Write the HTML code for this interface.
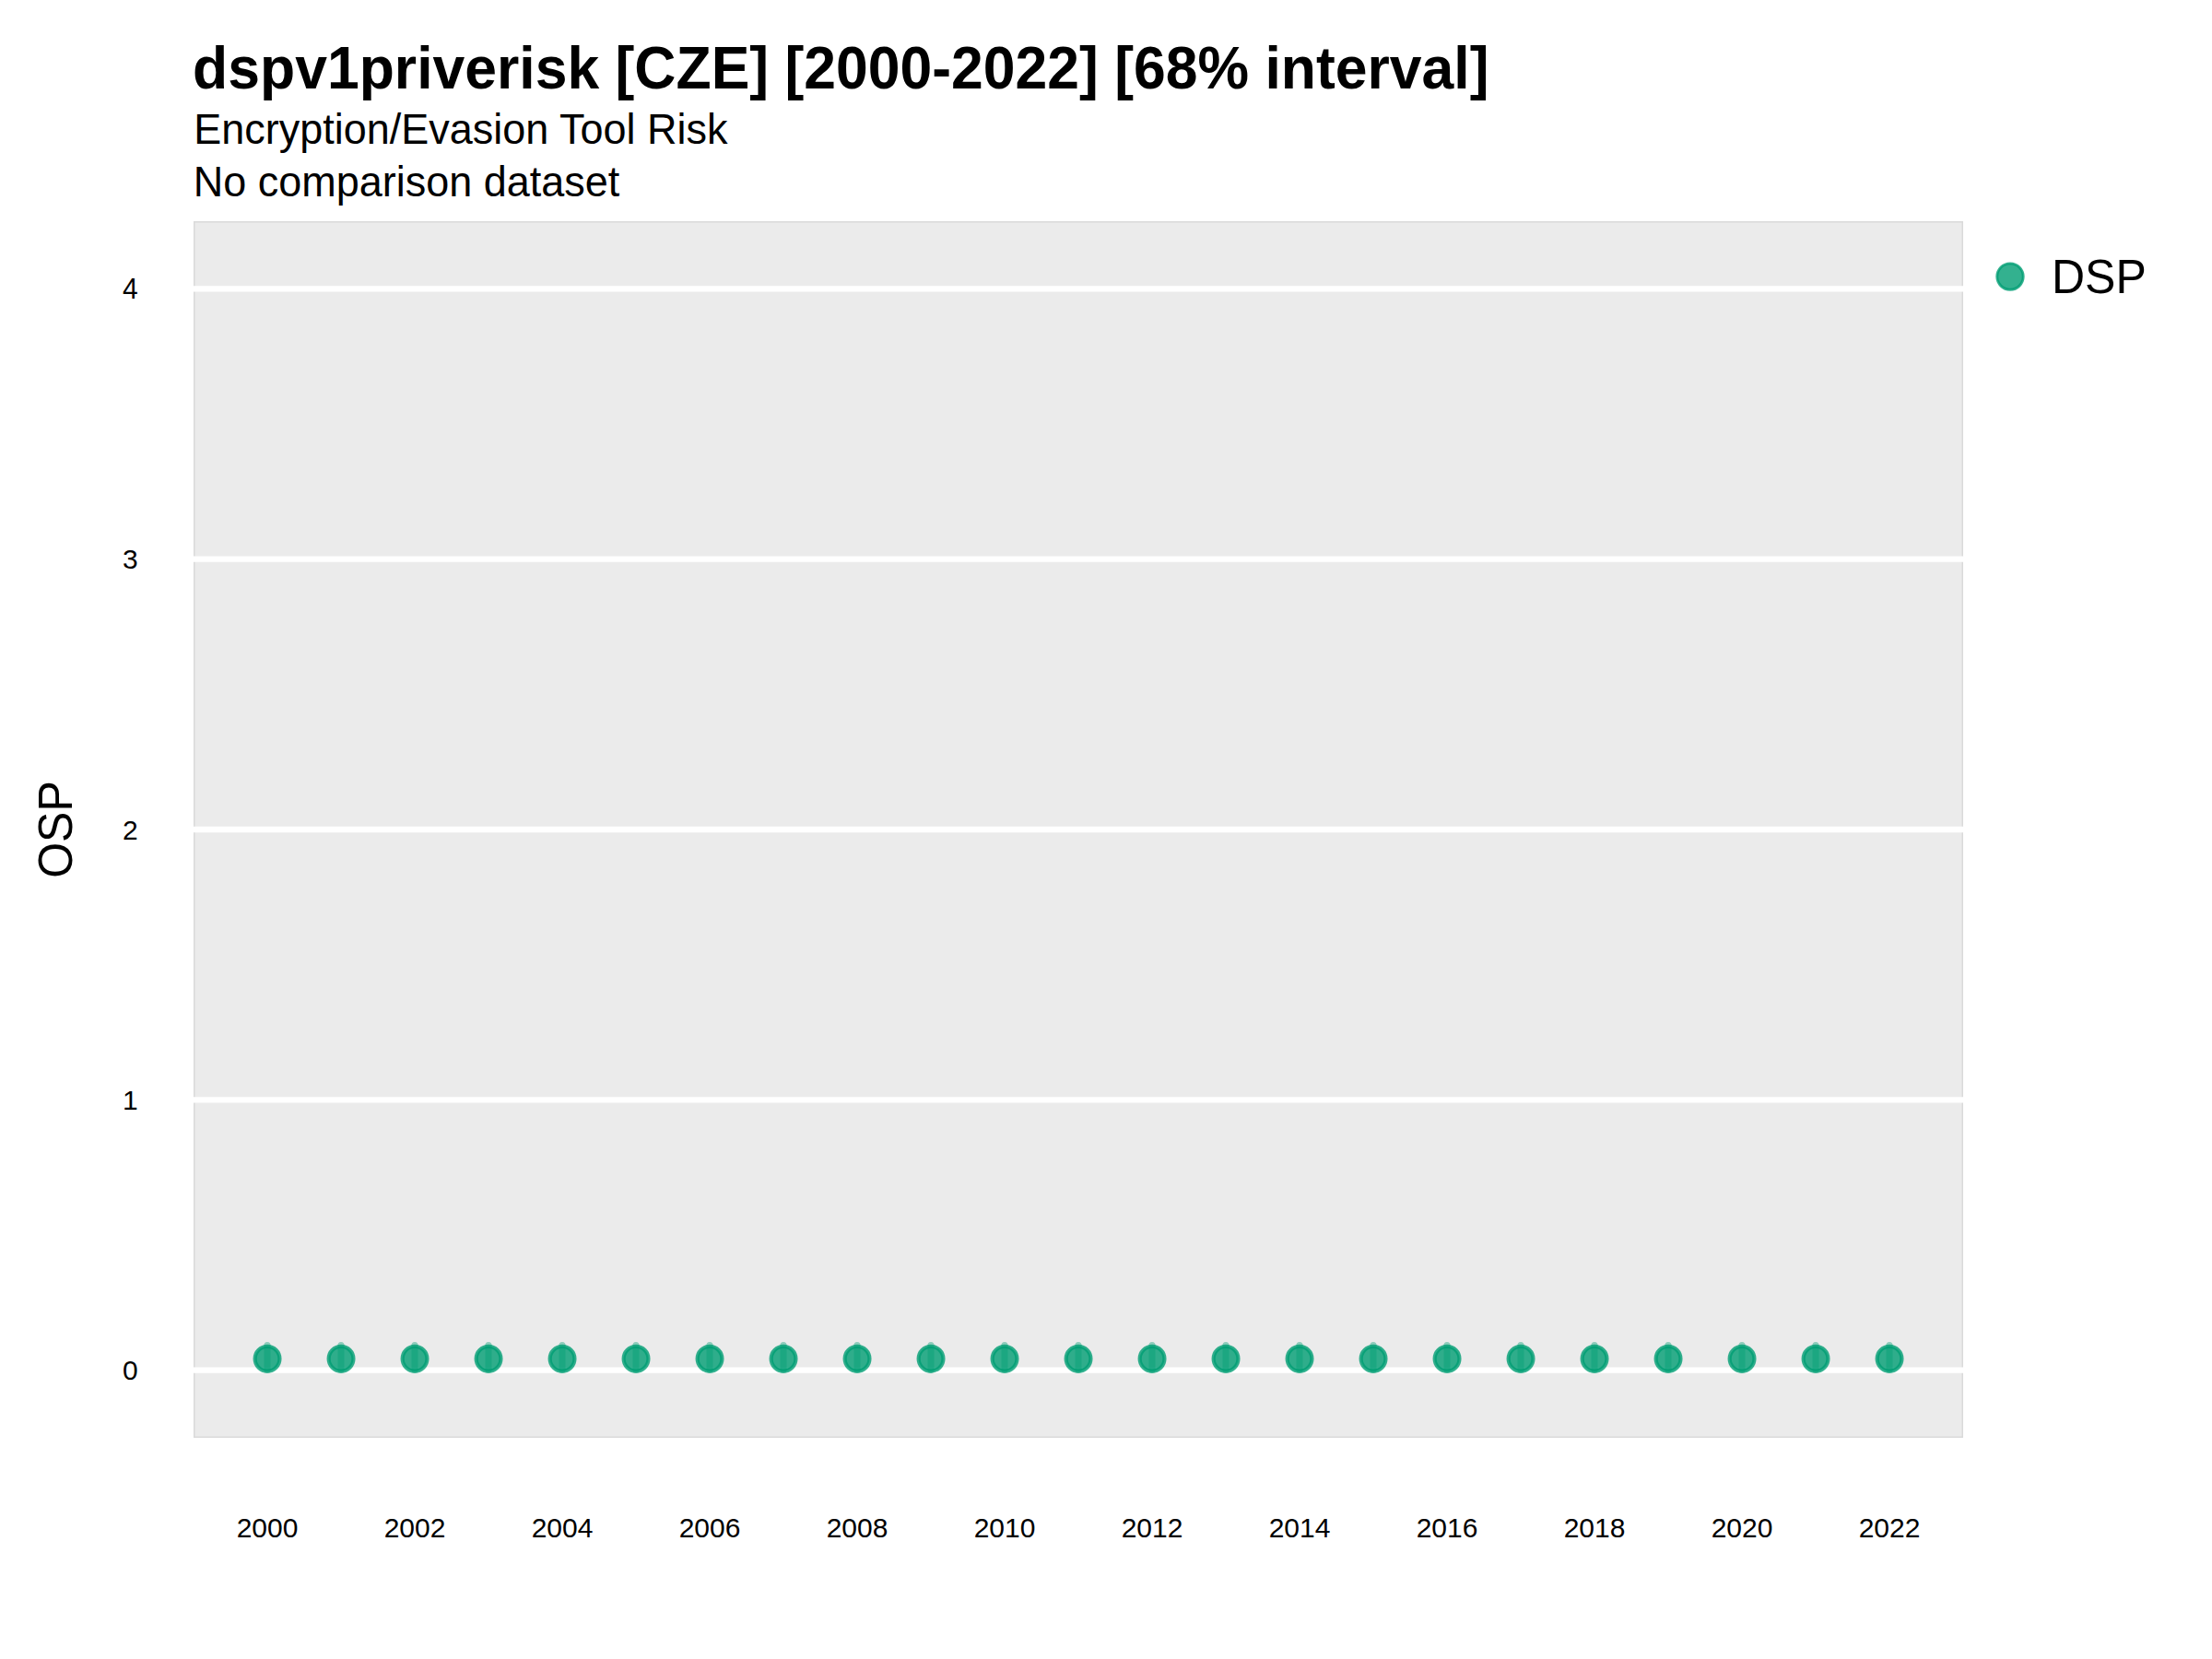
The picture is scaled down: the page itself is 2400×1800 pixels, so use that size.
<!DOCTYPE html>
<html lang="en"><head><meta charset="utf-8"><title>dspv1priverisk [CZE]</title>
<style>html,body{margin:0;padding:0;background:#fff;}svg{display:block}text{font-family:"Liberation Sans",Arial,Helvetica,sans-serif;fill:#000}.ax{font-size:30px}.t{font-size:62.5px;font-weight:bold}.s{font-size:45px}.lg{font-size:50px}.yl{font-size:50px}</style></head><body>
<svg width="2400" height="1800" viewBox="0 0 2400 1800">
<rect x="0" y="0" width="2400" height="1800" fill="#ffffff"/>
<rect x="210" y="240" width="1920" height="1320" fill="#ebebeb"/>
<rect x="210.75" y="240.75" width="1918.5" height="1318.5" fill="none" stroke="#dadada" stroke-width="1.5"/>
<line x1="210" x2="2130" y1="1486.67" y2="1486.67" stroke="#ffffff" stroke-width="6.4"/>
<line x1="210" x2="2130" y1="1193.34" y2="1193.34" stroke="#ffffff" stroke-width="6.4"/>
<line x1="210" x2="2130" y1="900.00" y2="900.00" stroke="#ffffff" stroke-width="6.4"/>
<line x1="210" x2="2130" y1="606.67" y2="606.67" stroke="#ffffff" stroke-width="6.4"/>
<line x1="210" x2="2130" y1="313.34" y2="313.34" stroke="#ffffff" stroke-width="6.4"/>
<g>
<line x1="290" x2="290" y1="1459.6" y2="1486.4" stroke="#009e73" stroke-opacity="0.4" stroke-width="7.1" stroke-linecap="round"/>
<line x1="370" x2="370" y1="1459.6" y2="1486.4" stroke="#009e73" stroke-opacity="0.4" stroke-width="7.1" stroke-linecap="round"/>
<line x1="450" x2="450" y1="1459.6" y2="1486.4" stroke="#009e73" stroke-opacity="0.4" stroke-width="7.1" stroke-linecap="round"/>
<line x1="530" x2="530" y1="1459.6" y2="1486.4" stroke="#009e73" stroke-opacity="0.4" stroke-width="7.1" stroke-linecap="round"/>
<line x1="610" x2="610" y1="1459.6" y2="1486.4" stroke="#009e73" stroke-opacity="0.4" stroke-width="7.1" stroke-linecap="round"/>
<line x1="690" x2="690" y1="1459.6" y2="1486.4" stroke="#009e73" stroke-opacity="0.4" stroke-width="7.1" stroke-linecap="round"/>
<line x1="770" x2="770" y1="1459.6" y2="1486.4" stroke="#009e73" stroke-opacity="0.4" stroke-width="7.1" stroke-linecap="round"/>
<line x1="850" x2="850" y1="1459.6" y2="1486.4" stroke="#009e73" stroke-opacity="0.4" stroke-width="7.1" stroke-linecap="round"/>
<line x1="930" x2="930" y1="1459.6" y2="1486.4" stroke="#009e73" stroke-opacity="0.4" stroke-width="7.1" stroke-linecap="round"/>
<line x1="1010" x2="1010" y1="1459.6" y2="1486.4" stroke="#009e73" stroke-opacity="0.4" stroke-width="7.1" stroke-linecap="round"/>
<line x1="1090" x2="1090" y1="1459.6" y2="1486.4" stroke="#009e73" stroke-opacity="0.4" stroke-width="7.1" stroke-linecap="round"/>
<line x1="1170" x2="1170" y1="1459.6" y2="1486.4" stroke="#009e73" stroke-opacity="0.4" stroke-width="7.1" stroke-linecap="round"/>
<line x1="1250" x2="1250" y1="1459.6" y2="1486.4" stroke="#009e73" stroke-opacity="0.4" stroke-width="7.1" stroke-linecap="round"/>
<line x1="1330" x2="1330" y1="1459.6" y2="1486.4" stroke="#009e73" stroke-opacity="0.4" stroke-width="7.1" stroke-linecap="round"/>
<line x1="1410" x2="1410" y1="1459.6" y2="1486.4" stroke="#009e73" stroke-opacity="0.4" stroke-width="7.1" stroke-linecap="round"/>
<line x1="1490" x2="1490" y1="1459.6" y2="1486.4" stroke="#009e73" stroke-opacity="0.4" stroke-width="7.1" stroke-linecap="round"/>
<line x1="1570" x2="1570" y1="1459.6" y2="1486.4" stroke="#009e73" stroke-opacity="0.4" stroke-width="7.1" stroke-linecap="round"/>
<line x1="1650" x2="1650" y1="1459.6" y2="1486.4" stroke="#009e73" stroke-opacity="0.4" stroke-width="7.1" stroke-linecap="round"/>
<line x1="1730" x2="1730" y1="1459.6" y2="1486.4" stroke="#009e73" stroke-opacity="0.4" stroke-width="7.1" stroke-linecap="round"/>
<line x1="1810" x2="1810" y1="1459.6" y2="1486.4" stroke="#009e73" stroke-opacity="0.4" stroke-width="7.1" stroke-linecap="round"/>
<line x1="1890" x2="1890" y1="1459.6" y2="1486.4" stroke="#009e73" stroke-opacity="0.4" stroke-width="7.1" stroke-linecap="round"/>
<line x1="1970" x2="1970" y1="1459.6" y2="1486.4" stroke="#009e73" stroke-opacity="0.4" stroke-width="7.1" stroke-linecap="round"/>
<line x1="2050" x2="2050" y1="1459.6" y2="1486.4" stroke="#009e73" stroke-opacity="0.4" stroke-width="7.1" stroke-linecap="round"/>
<circle cx="290.05" cy="1474.25" r="13.4" fill="#009e73" fill-opacity="0.8"/><circle cx="290.05" cy="1474.25" r="13.4" fill="none" stroke="#009e73" stroke-opacity="0.8" stroke-width="4.2"/>
<circle cx="370.05" cy="1474.25" r="13.4" fill="#009e73" fill-opacity="0.8"/><circle cx="370.05" cy="1474.25" r="13.4" fill="none" stroke="#009e73" stroke-opacity="0.8" stroke-width="4.2"/>
<circle cx="450.05" cy="1474.25" r="13.4" fill="#009e73" fill-opacity="0.8"/><circle cx="450.05" cy="1474.25" r="13.4" fill="none" stroke="#009e73" stroke-opacity="0.8" stroke-width="4.2"/>
<circle cx="530.05" cy="1474.25" r="13.4" fill="#009e73" fill-opacity="0.8"/><circle cx="530.05" cy="1474.25" r="13.4" fill="none" stroke="#009e73" stroke-opacity="0.8" stroke-width="4.2"/>
<circle cx="610.05" cy="1474.25" r="13.4" fill="#009e73" fill-opacity="0.8"/><circle cx="610.05" cy="1474.25" r="13.4" fill="none" stroke="#009e73" stroke-opacity="0.8" stroke-width="4.2"/>
<circle cx="690.05" cy="1474.25" r="13.4" fill="#009e73" fill-opacity="0.8"/><circle cx="690.05" cy="1474.25" r="13.4" fill="none" stroke="#009e73" stroke-opacity="0.8" stroke-width="4.2"/>
<circle cx="770.05" cy="1474.25" r="13.4" fill="#009e73" fill-opacity="0.8"/><circle cx="770.05" cy="1474.25" r="13.4" fill="none" stroke="#009e73" stroke-opacity="0.8" stroke-width="4.2"/>
<circle cx="850.05" cy="1474.25" r="13.4" fill="#009e73" fill-opacity="0.8"/><circle cx="850.05" cy="1474.25" r="13.4" fill="none" stroke="#009e73" stroke-opacity="0.8" stroke-width="4.2"/>
<circle cx="930.05" cy="1474.25" r="13.4" fill="#009e73" fill-opacity="0.8"/><circle cx="930.05" cy="1474.25" r="13.4" fill="none" stroke="#009e73" stroke-opacity="0.8" stroke-width="4.2"/>
<circle cx="1010.05" cy="1474.25" r="13.4" fill="#009e73" fill-opacity="0.8"/><circle cx="1010.05" cy="1474.25" r="13.4" fill="none" stroke="#009e73" stroke-opacity="0.8" stroke-width="4.2"/>
<circle cx="1090.05" cy="1474.25" r="13.4" fill="#009e73" fill-opacity="0.8"/><circle cx="1090.05" cy="1474.25" r="13.4" fill="none" stroke="#009e73" stroke-opacity="0.8" stroke-width="4.2"/>
<circle cx="1170.05" cy="1474.25" r="13.4" fill="#009e73" fill-opacity="0.8"/><circle cx="1170.05" cy="1474.25" r="13.4" fill="none" stroke="#009e73" stroke-opacity="0.8" stroke-width="4.2"/>
<circle cx="1250.05" cy="1474.25" r="13.4" fill="#009e73" fill-opacity="0.8"/><circle cx="1250.05" cy="1474.25" r="13.4" fill="none" stroke="#009e73" stroke-opacity="0.8" stroke-width="4.2"/>
<circle cx="1330.05" cy="1474.25" r="13.4" fill="#009e73" fill-opacity="0.8"/><circle cx="1330.05" cy="1474.25" r="13.4" fill="none" stroke="#009e73" stroke-opacity="0.8" stroke-width="4.2"/>
<circle cx="1410.05" cy="1474.25" r="13.4" fill="#009e73" fill-opacity="0.8"/><circle cx="1410.05" cy="1474.25" r="13.4" fill="none" stroke="#009e73" stroke-opacity="0.8" stroke-width="4.2"/>
<circle cx="1490.05" cy="1474.25" r="13.4" fill="#009e73" fill-opacity="0.8"/><circle cx="1490.05" cy="1474.25" r="13.4" fill="none" stroke="#009e73" stroke-opacity="0.8" stroke-width="4.2"/>
<circle cx="1570.05" cy="1474.25" r="13.4" fill="#009e73" fill-opacity="0.8"/><circle cx="1570.05" cy="1474.25" r="13.4" fill="none" stroke="#009e73" stroke-opacity="0.8" stroke-width="4.2"/>
<circle cx="1650.05" cy="1474.25" r="13.4" fill="#009e73" fill-opacity="0.8"/><circle cx="1650.05" cy="1474.25" r="13.4" fill="none" stroke="#009e73" stroke-opacity="0.8" stroke-width="4.2"/>
<circle cx="1730.05" cy="1474.25" r="13.4" fill="#009e73" fill-opacity="0.8"/><circle cx="1730.05" cy="1474.25" r="13.4" fill="none" stroke="#009e73" stroke-opacity="0.8" stroke-width="4.2"/>
<circle cx="1810.05" cy="1474.25" r="13.4" fill="#009e73" fill-opacity="0.8"/><circle cx="1810.05" cy="1474.25" r="13.4" fill="none" stroke="#009e73" stroke-opacity="0.8" stroke-width="4.2"/>
<circle cx="1890.05" cy="1474.25" r="13.4" fill="#009e73" fill-opacity="0.8"/><circle cx="1890.05" cy="1474.25" r="13.4" fill="none" stroke="#009e73" stroke-opacity="0.8" stroke-width="4.2"/>
<circle cx="1970.05" cy="1474.25" r="13.4" fill="#009e73" fill-opacity="0.8"/><circle cx="1970.05" cy="1474.25" r="13.4" fill="none" stroke="#009e73" stroke-opacity="0.8" stroke-width="4.2"/>
<circle cx="2050.05" cy="1474.25" r="13.4" fill="#009e73" fill-opacity="0.8"/><circle cx="2050.05" cy="1474.25" r="13.4" fill="none" stroke="#009e73" stroke-opacity="0.8" stroke-width="4.2"/>
</g>
<text class="ax" transform="translate(149.6,1497.37) scale(1,1)" text-anchor="end">0</text>
<text class="ax" transform="translate(149.6,1204.04) scale(1,1)" text-anchor="end">1</text>
<text class="ax" transform="translate(149.6,910.70) scale(1,1)" text-anchor="end">2</text>
<text class="ax" transform="translate(149.6,617.37) scale(1,1)" text-anchor="end">3</text>
<text class="ax" transform="translate(149.6,324.04) scale(1,1.06)" text-anchor="end">4</text>
<text class="ax" transform="translate(290,1668.2) scale(1,1)" text-anchor="middle">2000</text>
<text class="ax" transform="translate(450,1668.2) scale(1,1)" text-anchor="middle">2002</text>
<text class="ax" transform="translate(610,1668.2) scale(1,1)" text-anchor="middle">2004</text>
<text class="ax" transform="translate(770,1668.2) scale(1,1)" text-anchor="middle">2006</text>
<text class="ax" transform="translate(930,1668.2) scale(1,1)" text-anchor="middle">2008</text>
<text class="ax" transform="translate(1090,1668.2) scale(1,1)" text-anchor="middle">2010</text>
<text class="ax" transform="translate(1250,1668.2) scale(1,1)" text-anchor="middle">2012</text>
<text class="ax" transform="translate(1410,1668.2) scale(1,1)" text-anchor="middle">2014</text>
<text class="ax" transform="translate(1570,1668.2) scale(1,1)" text-anchor="middle">2016</text>
<text class="ax" transform="translate(1730,1668.2) scale(1,1)" text-anchor="middle">2018</text>
<text class="ax" transform="translate(1890,1668.2) scale(1,1)" text-anchor="middle">2020</text>
<text class="ax" transform="translate(2050,1668.2) scale(1,1)" text-anchor="middle">2022</text>
<text class="yl" transform="translate(78.1,900) rotate(-90) scale(1,1.043)" text-anchor="middle">OSP</text>
<text class="t" transform="translate(209.1,96.1) scale(1,1.025)">dspv1priverisk [CZE] [2000-2022] [68% interval]</text>
<text class="s" transform="translate(210.3,155.9) scale(1,1.04)">Encryption/Evasion Tool Risk</text>
<text class="s" transform="translate(209.7,212.9) scale(1,1.04)">No comparison dataset</text>
<circle cx="2181" cy="300.1" r="14.2" fill="#009e73" fill-opacity="0.8"/><circle cx="2181" cy="300.1" r="14.2" fill="none" stroke="#009e73" stroke-opacity="0.8" stroke-width="2.9"/>
<text class="lg" transform="translate(2226,318.1) scale(1,1.043)">DSP</text>
</svg></body></html>
